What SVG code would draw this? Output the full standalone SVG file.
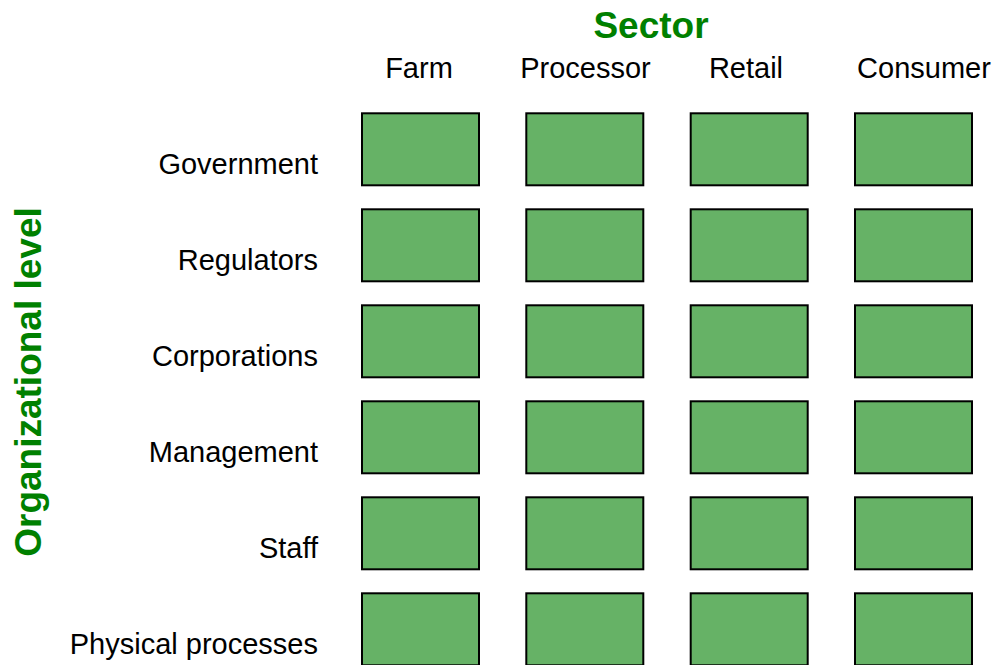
<svg xmlns="http://www.w3.org/2000/svg" width="997" height="665" viewBox="0 0 997 665">
  <style>
    .cell { fill: #66b266; stroke: #000000; stroke-width: 2; }
    .lbl { font-family: "Liberation Sans", Arial, sans-serif; font-size: 29px; fill: #000000; }
    .row { text-anchor: end; }
    .col { text-anchor: middle; }
    .axis { font-family: "Liberation Sans", Arial, sans-serif; font-size: 37px; font-weight: bold; fill: #008000; text-anchor: middle; }
  </style>
  <rect width="997" height="665" fill="#ffffff"/>

  <!-- axis titles -->
  <text id="axis-sector" class="axis" x="651" y="37.5">Sector</text>
  <text id="axis-level" class="axis" transform="translate(40.5,382) rotate(-90)">Organizational level</text>

  <!-- column headers -->
  <g id="columns">
    <text class="lbl col" x="419" y="78">Farm</text>
    <text class="lbl col" x="585.5" y="78">Processor</text>
    <text class="lbl col" x="746" y="78">Retail</text>
    <text class="lbl col" x="924" y="78">Consumer</text>
  </g>

  <!-- row headers -->
  <g id="rows">
    <text class="lbl row" x="318" y="174">Government</text>
    <text class="lbl row" x="318" y="270">Regulators</text>
    <text class="lbl row" x="318" y="366">Corporations</text>
    <text class="lbl row" x="318" y="462">Management</text>
    <text class="lbl row" x="318" y="558">Staff</text>
    <text class="lbl row" x="318" y="654">Physical processes</text>
  </g>

  <!-- grid cells: one per level x sector -->
  <g id="government">
    <rect id="government-farm" class="cell" x="362" y="113.3" width="117" height="72"/>
    <rect id="government-processor" class="cell" x="526.3" y="113.3" width="117" height="72"/>
    <rect id="government-retail" class="cell" x="690.7" y="113.3" width="117" height="72"/>
    <rect id="government-consumer" class="cell" x="855" y="113.3" width="117" height="72"/>
  </g>
  <g id="regulators">
    <rect id="regulators-farm" class="cell" x="362" y="209.3" width="117" height="72"/>
    <rect id="regulators-processor" class="cell" x="526.3" y="209.3" width="117" height="72"/>
    <rect id="regulators-retail" class="cell" x="690.7" y="209.3" width="117" height="72"/>
    <rect id="regulators-consumer" class="cell" x="855" y="209.3" width="117" height="72"/>
  </g>
  <g id="corporations">
    <rect id="corporations-farm" class="cell" x="362" y="305.3" width="117" height="72"/>
    <rect id="corporations-processor" class="cell" x="526.3" y="305.3" width="117" height="72"/>
    <rect id="corporations-retail" class="cell" x="690.7" y="305.3" width="117" height="72"/>
    <rect id="corporations-consumer" class="cell" x="855" y="305.3" width="117" height="72"/>
  </g>
  <g id="management">
    <rect id="management-farm" class="cell" x="362" y="401.3" width="117" height="72"/>
    <rect id="management-processor" class="cell" x="526.3" y="401.3" width="117" height="72"/>
    <rect id="management-retail" class="cell" x="690.7" y="401.3" width="117" height="72"/>
    <rect id="management-consumer" class="cell" x="855" y="401.3" width="117" height="72"/>
  </g>
  <g id="staff">
    <rect id="staff-farm" class="cell" x="362" y="497.3" width="117" height="72"/>
    <rect id="staff-processor" class="cell" x="526.3" y="497.3" width="117" height="72"/>
    <rect id="staff-retail" class="cell" x="690.7" y="497.3" width="117" height="72"/>
    <rect id="staff-consumer" class="cell" x="855" y="497.3" width="117" height="72"/>
  </g>
  <g id="physical-processes">
    <rect id="physical-farm" class="cell" x="362" y="593.3" width="117" height="72"/>
    <rect id="physical-processor" class="cell" x="526.3" y="593.3" width="117" height="72"/>
    <rect id="physical-retail" class="cell" x="690.7" y="593.3" width="117" height="72"/>
    <rect id="physical-consumer" class="cell" x="855" y="593.3" width="117" height="72"/>
  </g>

  <!-- no connectors in this grid -->
  <g id="connectors"/>
</svg>
